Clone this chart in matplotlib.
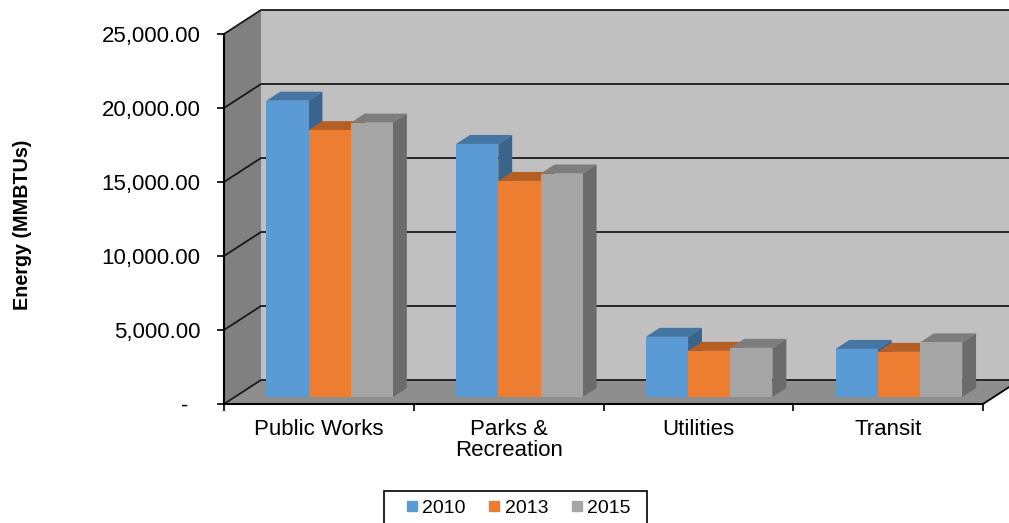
import numpy as np
from matplotlib import pyplot as plt
from matplotlib.patches import Rectangle

categories = ["Public Works", "Parks &\nRecreation", "Utilities", "Transit"]
years = ["2010", "2013", "2015"]
values_2010 = [20020, 17100, 4065, 3250]
values_2013 = [18030, 14600, 3120, 3050]
values_2015 = [18540, 15100, 3320, 3690]
y_ticks = [0, 5000, 10000, 15000, 20000, 25000]
y_labels = ["-  ", "5,000.00", "10,000.00", "15,000.00", "20,000.00", "25,000.00"]

# front, top, side colours per series
front_cols = ["#5b9bd5", "#ed7d31", "#a5a5a5"]
top_cols = ["#4475a3", "#b55f25", "#7d7d7d"]
side_cols = ["#3a648c", "#9c5120", "#6b6b6b"]

plt.rcParams['font.family'] = ['Liberation Sans', 'DejaVu Sans']

W, H = 1009, 523
fig = plt.figure(figsize=(W / 100, H / 100), dpi=100)
ax = fig.add_axes([224 / W, (H - 404) / H, 759 / W, 370 / H])
ax.set_xlim(0, 4)
ax.set_ylim(0, 25000)

# fake 3d: how far the back wall is shifted from the front plane
DX = 37 / 189.75
DY = 24 / 370 * 25000
top = y_ticks[-1]
right = 4

ax.fill([DX, right + DX, right + DX, DX], [DY, DY, top + DY, top + DY], color="#c0c0c0", lw=0, zorder=1, clip_on=False)
ax.fill([0, DX, DX, 0], [0, DY, top + DY, top], color="#808080", lw=0, zorder=1, clip_on=False)
ax.fill([0, right, right + DX, DX], [0, 0, DY, DY], color="#8e8e8e", lw=0, zorder=1, clip_on=False)

for t in y_ticks:
    ax.plot([0, DX, right + DX], [t, t + DY, t + DY], color="#1a1a1a", lw=1.3, zorder=2, clip_on=False)
ax.plot([right, right + DX], [0, DY], color="black", lw=1.3, zorder=2, clip_on=False)

# bars
bar_w = 42.2 / 189.75
front = 7 / 24   # start of the bar inside the depth
depth = 9 / 24
series = [values_2010, values_2013, values_2015]
for c in range(len(categories)):
    for s, vals in enumerate(series):
        x0 = c + 0.5 + (s - 1.5) * bar_w + DX * front
        x1 = x0 + bar_w
        y0 = DY * front
        y1 = y0 + vals[c]
        dx = DX * depth
        dy = DY * depth
        ax.fill([x1, x1 + dx, x1 + dx, x1], [y0, y0 + dy, y1 + dy, y1], color=side_cols[s], lw=0, zorder=3, clip_on=False)
        ax.fill([x0, x1, x1 + dx, x0 + dx], [y1, y1, y1 + dy, y1 + dy], color=top_cols[s], lw=0, zorder=3, clip_on=False)
        ax.fill([x0, x1, x1, x0], [y0, y0, y1, y1], color=front_cols[s], lw=0, zorder=3, clip_on=False)

for s, name in enumerate(years):
    ax.plot([], [], ls="", marker="s", ms=7, color=front_cols[s], label=name)

ax.spines[["top", "right"]].set_visible(False)
for side in ["left", "bottom"]:
    ax.spines[side].set_linewidth(1.5)
    ax.spines[side].set_zorder(4)
ax.set_yticks(y_ticks)
ax.set_yticklabels(y_labels, fontsize=16)
ax.set_xticks(np.arange(5))
ax.set_xticklabels([])
ax.set_xticks(np.arange(4) + 0.5, categories, minor=True, fontsize=16, linespacing=1.03)
ax.tick_params(axis="y", length=5, width=1.2, pad=12, colors="black")
ax.tick_params(axis="x", which="major", length=5, width=1.2)
ax.tick_params(axis="x", which="minor", length=0, pad=10.5)

fig.text(23 / W, 1 - 225 / H, "Energy (MMBTUs)", rotation=90, fontsize=14.2, fontweight="bold", ha="center", va="center")

# legend box runs off the bottom of the picture
fig.add_artist(Rectangle((384 / W, 1 - 535 / H), 263 / W, 44 / H, transform=fig.transFigure,
                         facecolor="white", edgecolor="black", lw=1.2))
fig.legend(loc="upper left", bbox_to_anchor=(402 / W, 1 - 499.5 / H), ncol=3, fontsize=14,
           frameon=False, borderaxespad=0, borderpad=0, handletextpad=0.05, columnspacing=0.95, handlelength=1.0)

fig.savefig("out.png", dpi=100)
